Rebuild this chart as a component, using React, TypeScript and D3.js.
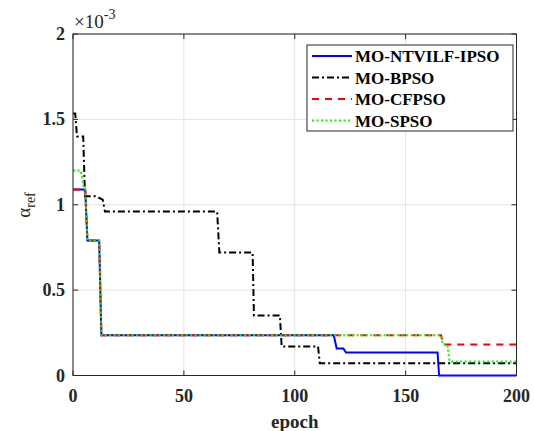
import React from "react";
import * as d3 from "d3";

type Pt = [number, number];

// Step traces of alpha_ref per epoch for each optimiser
const ntvilfIpso: Pt[] = [
  [0, 1.09e-3], [5.5, 1.09e-3], [6.5, 0.79e-3], [11.8, 0.79e-3], [12.8, 0.235e-3],
  [117.6, 0.235e-3], [118.9, 0.158e-3], [121.9, 0.158e-3], [123.1, 0.135e-3],
  [164.4, 0.135e-3], [165.1, 0], [200, 0],
];
const bpso: Pt[] = [
  [0, 1.535e-3], [1, 1.535e-3], [1.8, 1.4e-3], [4.6, 1.4e-3], [5.4, 1.05e-3],
  [10.2, 1.05e-3], [13.4, 1.03e-3], [14.4, 0.96e-3], [65, 0.96e-3], [66, 0.72e-3],
  [81, 0.72e-3], [81.6, 0.352e-3], [93.3, 0.352e-3], [94.1, 0.17e-3],
  [110.5, 0.17e-3], [111.3, 0.072e-3], [200, 0.072e-3],
];
const cfpso: Pt[] = [
  [0, 1.09e-3], [5.5, 1.09e-3], [6.5, 0.79e-3], [11.8, 0.79e-3], [12.8, 0.235e-3],
  [166, 0.235e-3], [167, 0.182e-3], [200, 0.182e-3],
];
const spso: Pt[] = [
  [0, 1.2e-3], [3.5, 1.2e-3], [5, 1.09e-3], [5.5, 1.09e-3], [6.5, 0.79e-3],
  [11.8, 0.79e-3], [12.8, 0.235e-3], [166, 0.235e-3], [166.8, 0.182e-3],
  [168.8, 0.182e-3], [169.8, 0.082e-3], [200, 0.082e-3],
];

const seriesNames = ["MO-NTVILF-IPSO", "MO-BPSO", "MO-CFPSO", "MO-SPSO"];
const seriesData = [ntvilfIpso, bpso, cfpso, spso];
const seriesColors = ["#0000ff", "#000000", "#ff0000", "#00ff00"];
const seriesDash = ["none", "7,3,2,3", "7,6", "2,2.5"];

const xTicks = [0, 50, 100, 150, 200];
const yTicks = [0, 0.5e-3, 1e-3, 1.5e-3, 2e-3];
const yTickLabels = ["0", "0.5", "1", "1.5", "2"];

const W = 534;
const H = 431;
const L = 73;
const R = 516.5;
const T = 34;
const B = 375.5;

export default function App() {
  const x = d3.scaleLinear().domain([0, 200]).range([L, R]);
  const y = d3.scaleLinear().domain([0, 2e-3]).range([B, T]);
  const line = d3
    .line<Pt>()
    .x((d) => x(d[0]))
    .y((d) => y(d[1]));

  const axisColor = "#262626";
  const serif = "'Liberation Serif', 'Times New Roman', serif";
  const legX = 307;
  const legY = 45;
  const legW = 206;
  const legH = 86;
  const rowY = [56, 77.5, 99, 120.5];

  return (
    <div style={{ position: "absolute", left: 0, top: 0 }}>
      <svg width={W} height={H} style={{ display: "block", background: "#fff" }}>
        <defs>
          <clipPath id="plotClip">
            <rect x={L} y={T - 2} width={R - L + 2} height={B - T + 4} />
          </clipPath>
        </defs>
        <rect x={0} y={0} width={W} height={H} fill="#fff" />
        {/* grid */}
        {xTicks.map((t) => (
          <line key={"gx" + t} x1={x(t)} x2={x(t)} y1={T} y2={B} stroke="#e3e3e3" strokeWidth={1} />
        ))}
        {yTicks.map((t) => (
          <line key={"gy" + t} x1={L} x2={R} y1={y(t)} y2={y(t)} stroke="#e3e3e3" strokeWidth={1} />
        ))}
        {/* series */}
        <g clipPath="url(#plotClip)">
          {seriesData.map((d, i) => (
            <path
              key={seriesNames[i]}
              d={line(d) || ""}
              fill="none"
              stroke={seriesColors[i]}
              strokeWidth={2}
              strokeDasharray={seriesDash[i]}
            />
          ))}
        </g>
        {/* axes box */}
        <rect x={L} y={T} width={R - L} height={B - T} fill="none" stroke={axisColor} strokeWidth={1} />
        {xTicks.map((t) => (
          <g key={"tx" + t}>
            <line x1={x(t)} x2={x(t)} y1={B} y2={B - 5} stroke={axisColor} />
            <line x1={x(t)} x2={x(t)} y1={T} y2={T + 5} stroke={axisColor} />
            <text
              x={x(t)}
              y={B + 26}
              textAnchor="middle"
              fontFamily={serif}
              fontWeight="bold"
              fontSize={18}
              fill={axisColor}
            >
              {t}
            </text>
          </g>
        ))}
        {yTicks.map((t, i) => (
          <g key={"ty" + t}>
            <line x1={L} x2={L + 5} y1={y(t)} y2={y(t)} stroke={axisColor} />
            <line x1={R} x2={R - 5} y1={y(t)} y2={y(t)} stroke={axisColor} />
            <text
              x={L - 8}
              y={y(t) + 6}
              textAnchor="end"
              fontFamily={serif}
              fontWeight="bold"
              fontSize={18}
              fill={axisColor}
            >
              {yTickLabels[i]}
            </text>
          </g>
        ))}
        {/* exponent */}
        <text x={L + 1} y={28} fontFamily={serif} fontSize={19} fill={axisColor}>
          ×10
          <tspan dy={-9} fontSize={14}>-3</tspan>
        </text>
        {/* axis labels */}
        <text
          x={(L + R) / 2}
          y={428}
          textAnchor="middle"
          fontFamily={serif}
          fontWeight="bold"
          fontSize={19}
          fill={axisColor}
        >
          epoch
        </text>
        <text
          transform={`translate(30, ${205}) rotate(-90)`}
          textAnchor="middle"
          fontFamily={serif}
          fontSize={19}
          fill={axisColor}
        >
          α
          <tspan dy={5} fontSize={14}>ref</tspan>
        </text>
        {/* legend */}
        <rect x={legX} y={legY} width={legW} height={legH} fill="#fff" stroke={axisColor} strokeWidth={1} />
        {seriesNames.map((n, i) => (
          <g key={"leg" + n}>
            <line
              x1={312}
              x2={352}
              y1={rowY[i]}
              y2={rowY[i]}
              stroke={seriesColors[i]}
              strokeWidth={2}
              strokeDasharray={seriesDash[i]}
            />
            <text
              x={355}
              y={rowY[i] + 6}
              fontFamily={serif}
              fontWeight="bold"
              fontSize={17}
              fill="#000"
            >
              {n}
            </text>
          </g>
        ))}
      </svg>
    </div>
  );
}
